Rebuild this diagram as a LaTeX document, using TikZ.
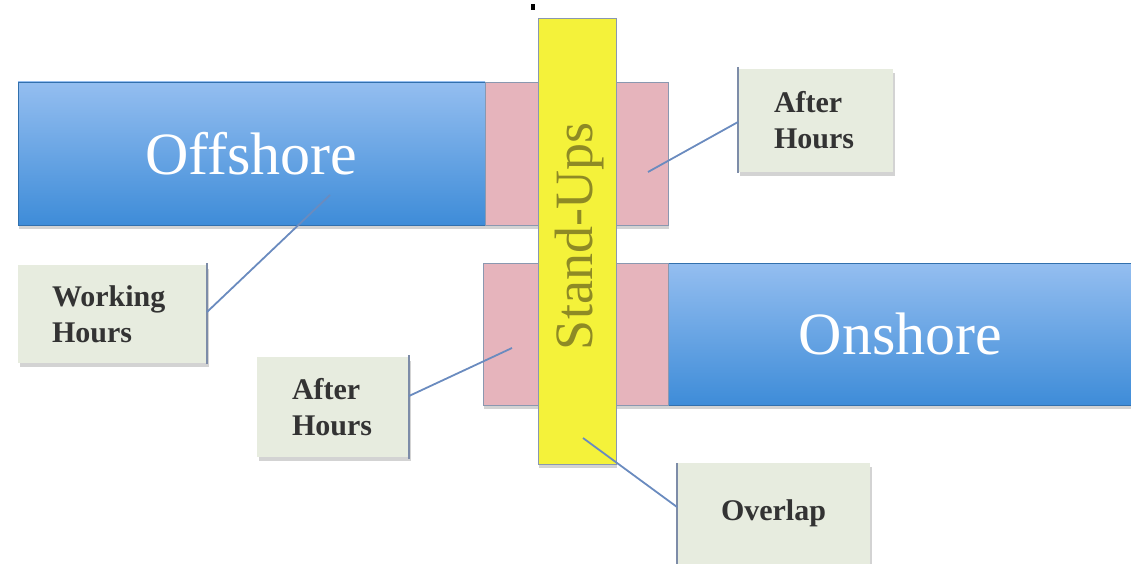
\documentclass[tikz,border=0pt]{standalone}
\usepackage{fontspec}
\setmainfont{Liberation Serif}
\usetikzlibrary{shadows}
\definecolor{bluetop}{HTML}{94BEF0}
\definecolor{bluebot}{HTML}{3E8CD8}
\definecolor{pinkf}{HTML}{E6B4BC}
\definecolor{yellowf}{HTML}{F4F23A}
\definecolor{edgec}{HTML}{8A98B0}
\definecolor{calloutf}{HTML}{E7ECDF}
\definecolor{accentc}{HTML}{7D8CA8}
\definecolor{leaderc}{HTML}{6A8BBF}
\definecolor{standc}{HTML}{8E8A25}
\definecolor{textc}{HTML}{333333}
\tikzset{
  bar/.style={rectangle, inner sep=0pt, outer sep=0pt, draw=edgec, line width=0.8pt,
    drop shadow={shadow xshift=1pt, shadow yshift=-4pt, opacity=0.35}},
  bluebar/.style={bar, top color=bluetop, bottom color=bluebot, draw=bluebot!80!black,
    text=white, font=\fontsize{60}{70}\selectfont},
  pinkbar/.style={bar, fill=pinkf},
  standbar/.style={bar, fill=yellowf, text=standc, font=\fontsize{54}{60}\selectfont},
  callout/.style={rectangle, fill=calloutf, outer sep=0pt, inner ysep=0pt,
    text=textc, font=\fontsize{30}{36}\bfseries\selectfont,
    drop shadow={shadow xshift=2pt, shadow yshift=-4pt, opacity=0.35}},
  accent/.style={draw=accentc, line width=2pt},
  leader/.style={draw=leaderc, line width=1.8pt}
}
\begin{document}
\begin{tikzpicture}[x=1pt,y=-1pt]
\useasboundingbox (0,0) rectangle (1131,564);
% bars
\node[bluebar, minimum width=467pt, minimum height=143pt] (off) at (251.5,153.5) {\raisebox{-8pt}{Offshore}};
\node[pinkbar, minimum width=183pt, minimum height=143pt] (pinkup) at (576.5,153.5) {};
\node[bluebar, minimum width=465pt, minimum height=142pt] (on) at (900.5,334) {\raisebox{-6pt}{Onshore}};
\node[pinkbar, minimum width=185pt, minimum height=142pt] (pinklow) at (575.5,334) {};
\node[standbar, minimum width=78pt, minimum height=446pt] (stand) at (577,241) {};
\node[text=standc, font=\fontsize{54}{60}\selectfont, rotate=90, inner sep=0pt] (standtxt) at (580,236) {Stand-Ups};
\fill (531,4) rectangle (535,10);
% callout boxes
\node[callout, minimum width=189pt, minimum height=98pt, text width=121pt, inner xsep=34pt, align=left] (wh) at (112.5,314) {Working\\Hours};
\node[callout, minimum width=152pt, minimum height=100pt, text width=82pt, inner xsep=35pt, align=left] (ahl) at (333,407) {After\\Hours};
\node[callout, minimum width=155pt, minimum height=103pt, text width=83pt, inner xsep=36pt, align=left] (ahr) at (815.5,120.5) {After\\Hours};
\node[callout, minimum width=193pt, minimum height=101pt, text width=150pt, inner xsep=21.5pt, align=center] (ovl) at (773.5,513.5) {Overlap};
% accent bars
\draw[accent] (207,263) -- (207,364);
\draw[accent] (409,355) -- (409,459);
\draw[accent] (738,67) -- (738,173);
\draw[accent] (677,463) -- (677,566);
% leader coordinates
\coordinate (whA) at (207,312);
\coordinate (whB) at (330,195);
\coordinate (ahlA) at (409,396);
\coordinate (ahlB) at (512,348);
\coordinate (ahrA) at (738,122);
\coordinate (ahrB) at (648,172);
\coordinate (ovlA) at (677,507);
\coordinate (ovlB) at (583,438);
\draw[leader] (whA) -- (whB);
\draw[leader] (ahlA) -- (ahlB);
\draw[leader] (ahrA) -- (ahrB);
\draw[leader] (ovlA) -- (ovlB);
\end{tikzpicture}
\end{document}
